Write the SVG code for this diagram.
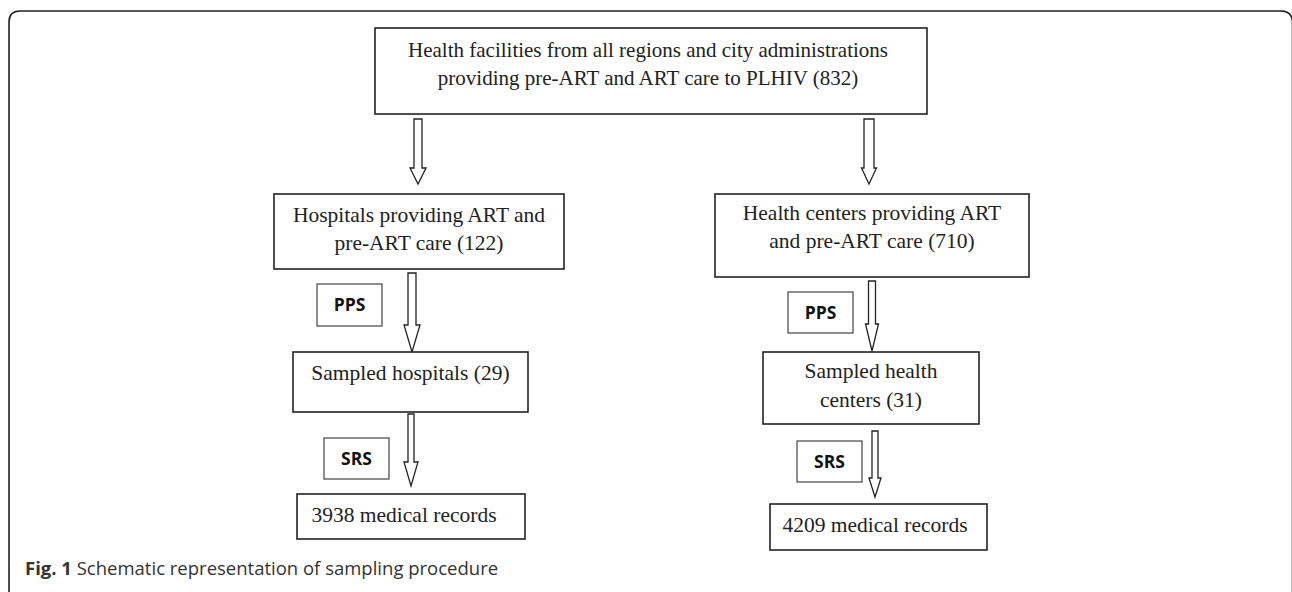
<svg xmlns="http://www.w3.org/2000/svg" width="1292" height="592" viewBox="0 0 1292 592">
<style>
.box{fill:#fff;stroke:#222;stroke-width:1.6}
.lbl{fill:#fff;stroke:#444;stroke-width:1.2}
.t{font-family:"Liberation Serif","Times New Roman",serif;font-size:21.5px;fill:#222;text-anchor:middle}
.s{font-family:"Open Sans","Liberation Sans",sans-serif;font-size:17.5px;font-weight:bold;fill:#111;text-anchor:middle}
.arr{fill:#fff;stroke:#222;stroke-width:1.3;stroke-linejoin:miter}
.cap{font-family:"Open Sans","Liberation Sans",sans-serif;font-size:18.5px;fill:#333}
</style>
<rect width="1292" height="592" fill="#fff"/>
<path d="M9 592 V22 Q9 11 20 11 H1281 Q1292 11 1292.5 22 V592" fill="none" stroke="#222" stroke-width="1.6"/>
<g id="connectors">
<polygon class="arr" points="414,119 422,119 422,168 426,168 418,184 410,168 414,168"/>
<polygon class="arr" points="864,119 874,119 874,168 876.5,168 869,184 861.5,168 864,168"/>
<polygon class="arr" points="408,273 416,273 416,325 420,325 412,352 404,325 408,325"/>
<polygon class="arr" points="868.5,281 875.5,281 875.5,324 878.5,324 872,351 865.5,324 868.5,324"/>
<polygon class="arr" points="408,414 414,414 414,462 418,462 411,486 404,462 408,462"/>
<polygon class="arr" points="872,431 878,431 878,478 881,478 875,497 869,478 872,478"/>
</g>
<g id="top">
<rect class="box" x="375" y="28" width="552" height="86"/>
<text class="t" x="648" y="57" style="font-size:21px">Health facilities from all regions and city administrations</text>
<text class="t" x="648" y="85" style="font-size:21px">providing pre-ART and ART care to PLHIV (832)</text>
</g>
<g id="hospitals">
<rect class="box" x="274" y="194" width="290" height="75"/>
<text class="t" x="419" y="222">Hospitals providing ART and</text>
<text class="t" x="419" y="250">pre-ART care (122)</text>
</g>
<g id="healthcenters">
<rect class="box" x="715" y="194" width="314" height="83"/>
<text class="t" x="872" y="220">Health centers providing ART</text>
<text class="t" x="872" y="248">and pre-ART care (710)</text>
</g>
<g id="pps-left">
<rect class="lbl" x="317" y="284" width="65" height="42"/>
<text class="s" x="349.5" y="311">PPS</text>
</g>
<g id="pps-right">
<rect class="lbl" x="788" y="292" width="65" height="41"/>
<text class="s" x="820.5" y="319">PPS</text>
</g>
<g id="sampled-hospitals">
<rect class="box" x="293" y="352" width="235" height="60"/>
<text class="t" x="410.5" y="380">Sampled hospitals (29)</text>
</g>
<g id="sampled-hc">
<rect class="box" x="763" y="352" width="216" height="72"/>
<text class="t" x="871" y="378">Sampled health</text>
<text class="t" x="871" y="407">centers (31)</text>
</g>
<g id="srs-left">
<rect class="lbl" x="324" y="438" width="65" height="41"/>
<text class="s" x="356.5" y="465">SRS</text>
</g>
<g id="srs-right">
<rect class="lbl" x="797" y="441" width="65" height="41"/>
<text class="s" x="829.5" y="468">SRS</text>
</g>
<g id="records-left">
<rect class="box" x="297" y="494" width="228" height="45"/>
<text class="t" x="404" y="522">3938 medical records</text>
</g>
<g id="records-right">
<rect class="box" x="770" y="504" width="217" height="46"/>
<text class="t" x="875" y="532">4209 medical records</text>
</g>
<text class="cap" x="25" y="575"><tspan font-weight="bold">Fig. 1</tspan> Schematic representation of sampling procedure</text>
</svg>
